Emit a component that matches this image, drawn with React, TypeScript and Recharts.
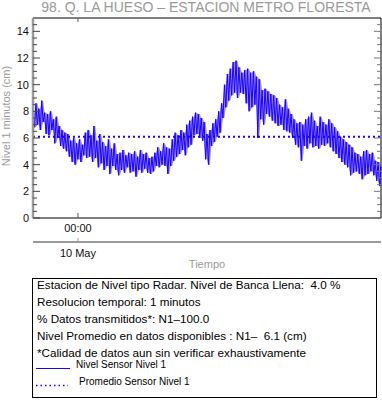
import { ComposedChart, Line, Area, XAxis, YAxis, ReferenceLine } from "recharts"

const tituloEstacion = "98. Q. LA HUESO – ESTACION METRO FLORESTA"
const etiquetaEjeY = "Nivel 1 minutos (cm)"
const etiquetaEjeX = "Tiempo"

// nivel cada 6 minutos desde las 20:54 del 9 May (cm)
const pasoMinutos = 6
const nivelSensor = [
  7.9, 6.8, 8.6, 7.0, 8.2, 6.6, 8.8, 7.2, 7.9, 6.3,
  7.8, 6.2, 8.0, 6.6, 7.4, 5.6, 7.6, 6.0, 6.9, 5.4,
  6.6, 5.2, 6.4, 5.0, 6.3, 4.6, 5.8, 4.2, 6.0, 4.0,
  5.6, 4.4, 5.9, 4.2, 5.5, 4.7, 6.4, 4.5, 6.6, 4.6,
  6.2, 4.2, 6.9, 4.5, 5.8, 3.8, 6.3, 4.1, 5.7, 3.6,
  5.4, 3.9, 5.9, 3.3, 5.2, 3.9, 5.6, 3.6, 4.8, 3.2,
  4.9, 3.6, 5.1, 3.4, 4.7, 3.8, 4.9, 3.4, 4.8, 3.5,
  5.0, 3.1, 4.6, 3.6, 5.1, 3.4, 4.8, 3.7, 4.9, 3.4,
  4.5, 3.3, 4.6, 3.5, 4.9, 3.9, 5.3, 3.8, 5.0, 4.0,
  5.6, 3.9, 5.3, 3.3, 5.2, 3.9, 5.9, 4.3, 6.4, 4.6,
  6.2, 4.8, 6.6, 5.1, 6.4, 4.7, 7.0, 5.3, 7.3, 5.5,
  7.6, 6.2, 7.9, 6.3, 7.8, 6.0, 7.5, 5.8, 7.2, 4.4,
  6.3, 4.0, 6.6, 5.4, 7.1, 5.7, 7.4, 6.1, 8.0, 6.4,
  8.6, 7.5, 10.0, 8.3, 10.8, 8.8, 11.2, 9.2, 11.7, 9.4,
  11.8, 9.0, 11.3, 9.4, 10.9, 9.3, 11.1, 8.6, 11.2, 8.0,
  10.9, 8.3, 11.0, 8.5, 10.6, 6.0, 10.4, 7.4, 9.6, 7.0,
  9.7, 7.8, 9.5, 7.6, 9.3, 7.3, 9.2, 7.1, 9.0, 6.9,
  8.5, 7.0, 8.3, 6.6, 8.9, 6.5, 8.2, 6.4, 7.8, 6.0,
  7.4, 5.5, 7.1, 5.3, 7.2, 4.3, 7.0, 5.4, 7.4, 5.2,
  7.6, 5.6, 7.9, 5.3, 7.3, 5.4, 6.9, 5.2, 7.6, 5.5,
  7.2, 5.4, 7.0, 5.6, 7.4, 5.3, 7.1, 5.0, 6.8, 4.8,
  6.5, 4.5, 6.1, 4.2, 5.9, 4.0, 5.7, 3.8, 5.5, 3.2,
  5.3, 3.4, 4.9, 3.5, 4.8, 3.3, 4.6, 2.9, 5.0, 3.2,
  5.1, 3.3, 4.8, 3.5, 4.9, 3.2, 4.3, 2.8, 4.2, 2.4, 3.9,
]
const promedioNivel = 6.1

const ticksHora = [186]
const etiquetasHora = ["00:00"]
const etiquetasFecha = ["10 May"]
const nivelesMayores = [0, 2, 4, 6, 8, 10, 12, 14]

const lineasInfo = [
  "Estacion de Nivel tipo Radar. Nivel de Banca Llena:  4.0 %",
  "Resolucion temporal: 1 minutos",
  "% Datos transmitidos*: N1\u2013100.0",
  "Nivel Promedio en datos disponibles : N1\u2013  6.1 (cm)",
  "*Calidad de datos aun sin verificar exhaustivamente",
]
const nombresSeries = ["Nivel Sensor Nivel 1", "Promedio Sensor Nivel 1"]

const AZUL = "#1a00ff"
const GRIS = "#9a9a9a"
const X_IZQ = 33
const X_DER = 381
const Y_ARRIBA = 18
const Y_ABAJO = 218

// banda entre cada lectura y la anterior, para que el ruido se vea relleno
const datos = nivelSensor.map((v, i) => {
  const prev = i > 0 ? nivelSensor[i - 1] : v
  return { min: i * pasoMinutos, nivel: v, banda: [Math.min(prev, v), Math.max(prev, v)] }
})

const ticksNivel: number[] = []
for (let v = 0; v < 15; v += 0.5) ticksNivel.push(v)

function TickNivel(props: any) {
  const { y, payload } = props
  const v = payload.value
  const mayor = nivelesMayores.includes(v)
  const largo = mayor ? 7 : 4
  return (
    <g>
      <line x1={X_IZQ} x2={X_IZQ + largo} y1={y} y2={y} stroke="#444" />
      <line x1={X_DER - largo} x2={X_DER} y1={y} y2={y} stroke="#777" />
      {mayor && (
        <text x={29} y={y} dy={4} textAnchor="end" fontSize={11} fill="#111">
          {v}
        </text>
      )}
    </g>
  )
}

function TickHora(props: any) {
  const { x, index } = props
  return (
    <g>
      <line x1={x} x2={x} y1={Y_ABAJO} y2={Y_ABAJO - 5} stroke="#555" />
      <line x1={x} x2={x} y1={Y_ARRIBA} y2={Y_ARRIBA + 4} stroke="#555" />
      <text x={x} y={Y_ABAJO + 14} textAnchor="middle" fontSize={11} fill="#111">
        {etiquetasHora[index]}
      </text>
    </g>
  )
}

function TickFecha(props: any) {
  const { x, index } = props
  const y0 = 242
  return (
    <g>
      <line x1={x} x2={x} y1={y0} y2={y0 - 4} stroke={GRIS} />
      <text x={x} y={y0 + 15} textAnchor="middle" fontSize={11} fill="#111">
        {etiquetasFecha[index]}
      </text>
    </g>
  )
}

export default function App() {
  return (
    <div
      style={{
        position: "relative",
        width: 382,
        height: 404,
        background: "#fff",
        fontFamily: "'Liberation Sans', Arial, sans-serif",
      }}
    >
      <style>{`body{margin:0}`}</style>
      <div
        style={{
          position: "absolute",
          left: 0,
          top: -1,
          width: 412,
          textAlign: "center",
          fontSize: 14,
          lineHeight: "16px",
          color: GRIS,
          whiteSpace: "nowrap",
        }}
      >
        {tituloEstacion}
      </div>
      <ComposedChart
        width={382}
        height={278}
        data={datos}
        margin={{ top: Y_ARRIBA, right: 382 - X_DER, left: 0, bottom: 0 }}
      >
        <XAxis
          dataKey="min"
          type="number"
          domain={[0, 1440]}
          ticks={ticksHora}
          height={24}
          axisLine={{ stroke: "#000" }}
          tickLine={false}
          tick={<TickHora />}
        />
        <XAxis
          xAxisId="fecha"
          dataKey="min"
          type="number"
          domain={[0, 1440]}
          ticks={ticksHora}
          height={36}
          axisLine={{ stroke: GRIS, strokeWidth: 2 }}
          tickLine={false}
          tick={<TickFecha />}
        />
        <YAxis
          type="number"
          domain={[0, 15]}
          ticks={ticksNivel}
          interval={0}
          width={X_IZQ}
          axisLine={{ stroke: GRIS, strokeWidth: 2.5 }}
          tickLine={false}
          tick={<TickNivel />}
        />
        <ReferenceLine y={15} stroke="#000" />
        <ReferenceLine x={1440} stroke="#000" />
        <Area
          dataKey="banda"
          type="linear"
          stroke="none"
          fill={AZUL}
          fillOpacity={0.45}
          isAnimationActive={false}
        />
        <Line
          dataKey="nivel"
          type="linear"
          stroke={AZUL}
          strokeWidth={1}
          dot={false}
          isAnimationActive={false}
        />
        <ReferenceLine y={promedioNivel} stroke={AZUL} strokeWidth={2} strokeDasharray="2 3" />
      </ComposedChart>
      <div
        style={{
          position: "absolute",
          left: -54,
          top: 110,
          width: 120,
          textAlign: "center",
          fontSize: 11,
          lineHeight: "12px",
          color: GRIS,
          transform: "rotate(-90deg)",
          whiteSpace: "nowrap",
        }}
      >
        {etiquetaEjeY}
      </div>
      <div
        style={{
          position: "absolute",
          left: X_IZQ,
          top: 257,
          width: X_DER - X_IZQ,
          textAlign: "center",
          fontSize: 11,
          lineHeight: "14px",
          color: GRIS,
        }}
      >
        {etiquetaEjeX}
      </div>
      <div
        style={{
          position: "absolute",
          left: 32,
          top: 278,
          width: 343,
          height: 118,
          border: "1px solid #000",
        }}
      >
        {lineasInfo.map((t, i) => (
          <div
            key={i}
            style={{
              position: "absolute",
              left: 4,
              top: 285 + 17 * i - 279 - 7,
              fontSize: 11.7,
              lineHeight: "14px",
              whiteSpace: "pre",
              color: "#000",
            }}
          >
            {t}
          </div>
        ))}
        {nombresSeries.map((n, i) => (
          <div key={n} style={{ position: "absolute", left: 3, top: 365 + 16.5 * i - 279 - 6, height: 12 }}>
            <svg width={36} height={12} style={{ position: "absolute", left: 0, top: 0 }}>
              {i === 0 ? (
                <line x1={0} x2={34} y1={9.5} y2={9.5} stroke={AZUL} strokeWidth={1} />
              ) : (
                <line x1={0} x2={32} y1={9.5} y2={9.5} stroke={AZUL} strokeWidth={1.5} strokeDasharray="1.5 3" />
              )}
            </svg>
            <span
              style={{
                position: "absolute",
                left: i === 0 ? 40 : 43,
                top: 0,
                fontSize: 10,
                lineHeight: "12px",
                whiteSpace: "nowrap",
                color: "#000",
              }}
            >
              {n}
            </span>
          </div>
        ))}
      </div>
    </div>
  )
}
